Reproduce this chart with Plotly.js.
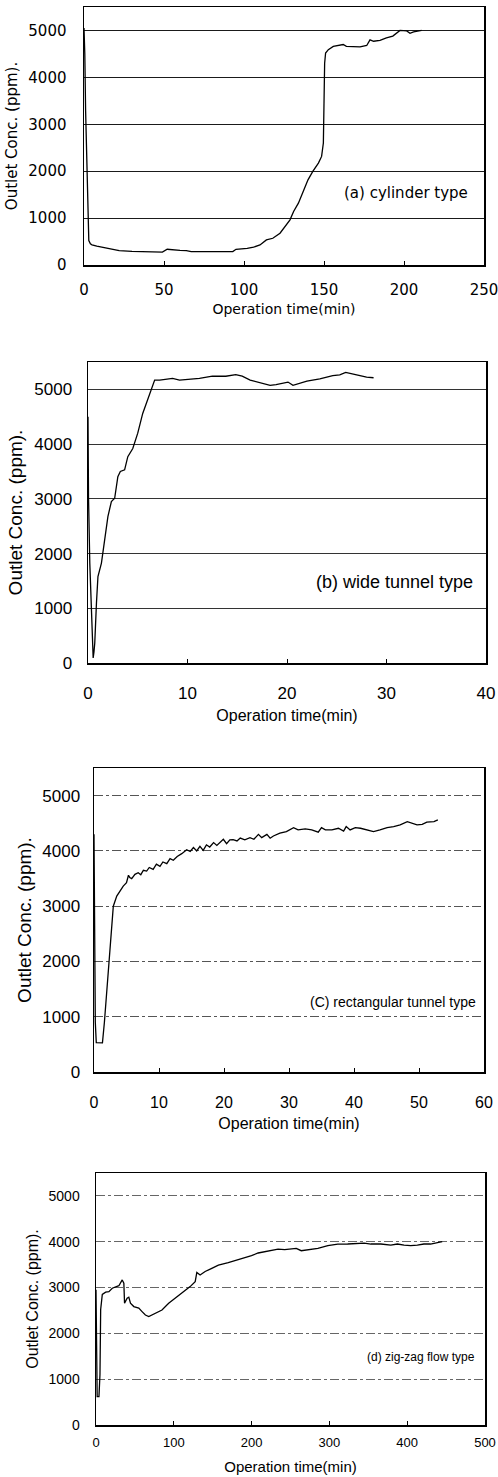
<!DOCTYPE html>
<html>
<head>
<meta charset="utf-8">
<script src="https://cdn.plot.ly/plotly-3.0.1.min.js"></script>
<style>
html,body{margin:0;padding:0;background:#fff;}
#chart{width:498px;height:1477px;}
</style>
</head>
<body>
<div id="chart"></div>
<script>
// ---------------- data ----------------
const yTitle = "Outlet Conc. (ppm).";
const xTitle = "Operation time(min)";
const labels = ["(a) cylinder type", "(b) wide tunnel type", "(C) rectangular tunnel type", "(d) zig-zag flow type"];

const aTime = [0, 0.5, 1, 1.5, 2, 2.5, 3, 4, 5, 8, 14, 22, 30, 35, 43, 49, 52, 55, 60, 64, 67, 75, 83, 93, 95, 99, 102, 106, 110, 114, 118, 122.5, 126.7, 128.75, 131, 134, 137, 140, 143, 146.5, 148.5, 149.6, 150, 150.4, 151, 152.7, 155.8, 160, 162, 164, 168, 172.5, 176.7, 178.75, 181, 185, 189, 193, 197.5, 201.7, 203.75, 206, 211];
const aConc = [5050, 4500, 3300, 2500, 1500, 700, 520, 450, 430, 400, 356, 306, 290, 285, 270, 275, 335, 320, 310, 306, 285, 285, 285, 285, 335, 340, 356, 380, 427, 534, 570, 677, 855, 962, 1140, 1318, 1567, 1816, 1994, 2172, 2315, 2600, 3450, 4300, 4520, 4590, 4660, 4680, 4700, 4660, 4660, 4650, 4680, 4800, 4770, 4790, 4840, 4880, 5000, 4990, 4940, 4970, 5000];

const bTime = [0, 0.05, 0.18, 0.35, 0.52, 0.6, 0.68, 0.85, 1.0, 1.35, 1.68, 2.0, 2.35, 2.68, 3.0, 3.25, 3.68, 4.0, 4.5, 5.0, 5.5, 6.0, 6.35, 6.7, 7.2, 7.85, 8.5, 9.2, 9.85, 11.2, 12.5, 13.85, 14.85, 15.5, 16.3, 17.3, 18.3, 18.9, 20.1, 20.6, 22.0, 23.3, 24.6, 25.3, 25.9, 27.0, 28.0, 28.7];
const bConc = [4500, 3040, 1825, 912, 91, 200, 365, 1095, 1580, 1825, 2311, 2676, 2950, 3010, 3406, 3500, 3530, 3770, 3920, 4200, 4560, 4800, 4990, 5170, 5170, 5180, 5200, 5170, 5180, 5200, 5240, 5240, 5270, 5240, 5170, 5121, 5073, 5085, 5133, 5073, 5150, 5190, 5250, 5265, 5310, 5264, 5224, 5212];

const cTime = [0, 0.1, 0.2, 0.35, 1.3, 1.6, 1.95, 2.36, 2.72, 2.97, 3.5, 4.0, 4.5, 5.0, 5.3, 5.5, 5.8, 6.3, 6.8, 7.2, 7.6, 8.1, 8.5, 9.1, 9.6, 10.15, 10.6, 11.2, 11.7, 12.2, 12.8, 13.5, 14.26, 14.8, 15.3, 15.8, 16.3, 16.8, 17.3, 17.8, 18.4, 18.9, 19.4, 19.9, 20.4, 20.9, 21.4, 22.0, 22.5, 23.2, 24.0, 24.6, 25.3, 25.8, 26.6, 27.1, 27.6, 28.6, 29.6, 30.7, 31.4, 32.5, 33.5, 34.5, 35.0, 35.6, 36.6, 37.6, 38.4, 38.8, 39.4, 40.2, 41.0, 42.0, 43.0, 44.0, 45.1, 46.1, 47.1, 48.2, 48.9, 49.7, 50.5, 51.2, 52.3, 52.9];
const cConc = [4300, 2000, 900, 530, 527, 900, 1424, 2030, 2636, 3000, 3182, 3273, 3364, 3424, 3560, 3520, 3500, 3576, 3606, 3570, 3650, 3636, 3700, 3667, 3760, 3720, 3800, 3770, 3860, 3830, 3900, 3950, 4021, 3990, 4060, 4000, 4081, 4010, 4110, 4070, 4150, 4100, 4154, 4210, 4130, 4200, 4202, 4180, 4232, 4200, 4240, 4210, 4300, 4240, 4300, 4230, 4270, 4320, 4350, 4420, 4380, 4400, 4380, 4340, 4420, 4380, 4380, 4410, 4360, 4440, 4380, 4420, 4410, 4380, 4350, 4380, 4420, 4440, 4470, 4530, 4500, 4470, 4480, 4520, 4530, 4560];

const dTime = [0, 1.5, 3.8, 4.5, 5.1, 6, 8.1, 12.4, 16.6, 20.9, 25.2, 29.4, 33.7, 35.8, 36.7, 40, 42.2, 44.3, 48.6, 55, 59.2, 63.5, 67.8, 72, 76.3, 84.8, 93.4, 101.9, 108, 114.7, 121, 127.5, 129.6, 133.8, 140.3, 148.8, 157.3, 170, 180.7, 191.4, 199.9, 208.4, 216.9, 225.4, 234, 242.5, 251, 257.4, 263.8, 272.4, 285.2, 298, 310.7, 323.5, 336.3, 344.8, 353.3, 366.1, 378.9, 387.4, 396, 404.5, 413, 421.5, 430, 438.6, 445];
const dConc = [2950, 620, 620, 1060, 1100, 2520, 2850, 2900, 2910, 2985, 3020, 3040, 3166, 3093, 2656, 2765, 2790, 2660, 2585, 2550, 2475, 2400, 2365, 2400, 2437, 2510, 2656, 2765, 2850, 2948, 3020, 3130, 3330, 3275, 3350, 3420, 3490, 3545, 3600, 3640, 3696, 3754, 3783, 3804, 3840, 3826, 3840, 3855, 3804, 3826, 3855, 3913, 3949, 3950, 3971, 3971, 3950, 3950, 3928, 3950, 3928, 3913, 3928, 3950, 3950, 3985, 4000];

const xMax = [250, 40, 60, 500];
const xStep = [50, 10, 10, 100];

// ---------------- layout helpers ----------------
const W = 498, H = 1477;
// pixel boxes [left, right, top, bottom]
const boxes = [[84, 484, 7, 265], [88, 486, 362, 663], [94, 484, 768, 1072], [96, 485, 1173, 1425]];
const fams = ["DejaVu Sans", "Liberation Sans", "Liberation Sans", "Liberation Sans"];
const tickSize = [15, 17, 17, 14];
const xTickSize = [15, 17, 16, 13];
const yTitleSize = [15, 19, 19, 16];
const xTitleSize = [14, 16, 16, 15];
const annSize = [15, 18, 14, 12];
const annFam = ["DejaVu Sans", "Liberation Sans", "Liberation Sans", "Liberation Sans"];
const annY = [193, 582, 1002, 1357];
const annRight = [470, 475, 478, 477];
const gridDash = ["solid", "solid", "dashdot", "dashdot"];
const gridCol = ["#1a1a1a", "#333", "#555", "#666"];
const xLabStand = [10, 14, 15, 5];
const xTitStand = [6, 8, 8, 12];
const yLabStand = [13, 11, 9, 12];
const yTitStand = [7, 6, 5, 6];

const times = [aTime, bTime, cTime, dTime];
const concs = [aConc, bConc, cConc, dConc];

const traces = [];
const layout = {
  width: W, height: H,
  margin: {l: 0, r: 0, t: 0, b: 0, pad: 0},
  paper_bgcolor: "#fff", plot_bgcolor: "#fff",
  showlegend: false,
  annotations: []
};

for (let i = 0; i < 4; i++) {
  const sfx = i === 0 ? "" : String(i + 1);
  const b = boxes[i];
  traces.push({
    x: times[i], y: concs[i],
    xaxis: "x" + sfx, yaxis: "y" + sfx,
    type: "scatter", mode: "lines",
    line: {color: "#000", width: 1.3},
    hoverinfo: "skip"
  });
  layout["xaxis" + sfx] = {
    domain: [b[0] / W, b[1] / W],
    anchor: "y" + sfx,
    range: [0, xMax[i]],
    dtick: xStep[i], tick0: 0,
    showgrid: false, zeroline: false,
    showline: true, linecolor: "#000", linewidth: 1.5, mirror: true,
    ticks: "inside", ticklen: 4, tickwidth: 1, tickcolor: "#000",
    ticklabelstandoff: xLabStand[i],
    ticklabeloverflow: "allow",
    tickfont: {family: fams[i], size: xTickSize[i], color: "#000"},
    title: {text: xTitle, standoff: xTitStand[i], font: {family: fams[i], size: xTitleSize[i], color: "#000"}},
    automargin: false, fixedrange: true
  };
  layout["yaxis" + sfx] = {
    domain: [1 - b[3] / H, 1 - b[2] / H],
    anchor: "x" + sfx,
    range: [0, 5500],
    dtick: 1000, tick0: 0,
    showgrid: true, gridcolor: gridCol[i], gridwidth: 1, griddash: gridDash[i],
    zeroline: false,
    showline: true, linecolor: "#000", linewidth: 1.5, mirror: true,
    ticks: "",
    ticklabelstandoff: yLabStand[i],
    ticklabeloverflow: "allow",
    tickfont: {family: fams[i], size: tickSize[i], color: "#000"},
    title: {text: yTitle, standoff: yTitStand[i], font: {family: fams[i], size: yTitleSize[i], color: "#000"}},
    automargin: false, fixedrange: true
  };
  layout.annotations.push({
    text: labels[i],
    xref: "paper", yref: "paper",
    x: annRight[i] / W, y: 1 - annY[i] / H,
    xanchor: "right", yanchor: "middle",
    showarrow: false,
    font: {family: annFam[i], size: annSize[i], color: "#000"}
  });
}

Plotly.newPlot("chart", traces, layout, {staticPlot: true, displayModeBar: false});
</script>
</body>
</html>
